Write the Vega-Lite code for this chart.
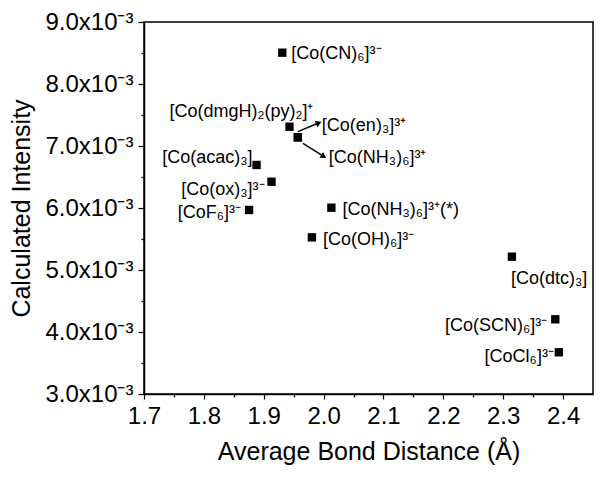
{
  "$schema": "https://vega.github.io/schema/vega-lite/v6.json",
  "width": 449,
  "height": 372,
  "autosize": "none",
  "padding": {"left": 144, "top": 22, "right": 8, "bottom": 85},
  "background": "white",
  "config": {
    "view": {"stroke": "black", "strokeWidth": 1.5},
    "font": "Liberation Sans",
    "axis": {
      "grid": false,
      "domainColor": "black",
      "domainWidth": 1.5,
      "tickColor": "black",
      "tickWidth": 1.2,
      "labelColor": "black",
      "titleColor": "black",
      "labelFont": "Liberation Sans",
      "titleFont": "Liberation Sans",
      "labelFontSize": 24,
      "titleFontSize": 25,
      "titleFontWeight": "normal"
    },
    "text": {"font": "Liberation Sans", "fontSize": 18, "color": "black", "baseline": "middle"}
  },
  "datasets": {
    "pts": [
      {"name": "CN", "label": "[Co(CN)₆]³⁻", "d": 1.931, "I": 0.008505},
      {"name": "dmgH", "label": "[Co(dmgH)₂(py)₂]⁺", "d": 1.943, "I": 0.007311},
      {"name": "en", "label": "[Co(en)₃]³⁺", "d": 1.957, "I": 0.00714},
      {"name": "NH3", "label": "[Co(NH₃)₆]³⁺", "d": 1.957, "I": 0.00714},
      {"name": "acac", "label": "[Co(acac)₃]", "d": 1.888, "I": 0.006694},
      {"name": "ox", "label": "[Co(ox)₃]³⁻", "d": 1.913, "I": 0.006424},
      {"name": "F", "label": "[CoF₆]³⁻", "d": 1.8755, "I": 0.005968},
      {"name": "NH3s", "label": "[Co(NH₃)₆]³⁺(*)", "d": 2.013, "I": 0.006005},
      {"name": "OH", "label": "[Co(OH)₆]³⁻", "d": 1.9805, "I": 0.005527},
      {"name": "dtc", "label": "[Co(dtc)₃]", "d": 2.3145, "I": 0.005215},
      {"name": "SCN", "label": "[Co(SCN)₆]³⁻", "d": 2.387, "I": 0.004205},
      {"name": "Cl", "label": "[CoCl₆]³⁻", "d": 2.393, "I": 0.003673}
    ],
    "arrows": [
      {"name": "en", "d": 1.957, "I": 0.007231, "d2": 1.9905, "I2": 0.007366},
      {"name": "NH3", "d": 1.9655, "I": 0.007044, "d2": 1.9988, "I2": 0.006839}
    ]
  },
  "resolve": {"axis": {"x": "independent", "y": "independent"}},
  "layer": [
    {
      "data": {"name": "pts"},
      "mark": {"type": "square", "size": 70, "color": "black", "opacity": 1, "filled": true},
      "encoding": {
        "x": {
          "field": "d", "type": "quantitative",
          "scale": {"domain": [1.7, 2.45], "nice": false, "zero": false},
          "axis": {
            "orient": "bottom",
            "title": "Average Bond Distance (Å)",
            "values": [1.7, 1.8, 1.9, 2.0, 2.1, 2.2, 2.3, 2.4],
            "format": ".1f",
            "tickSize": 5,
            "labelPadding": 5,
            "titlePadding": 11,
            "labelFlush": false,
            "labelOverlap": false
          }
        },
        "y": {
          "field": "I", "type": "quantitative",
          "scale": {"domain": [0.003, 0.009], "nice": false, "zero": false},
          "axis": {
            "orient": "left",
            "title": "Calculated Intensity",
            "values": [0.003, 0.004, 0.005, 0.006, 0.007, 0.008, 0.009],
            "labelExpr": "format(datum.value*1000, '.1f') + 'x10⁻³'",
            "tickSize": 6,
            "labelPadding": 5,
            "titlePadding": 10,
            "labelFlush": false,
            "labelOverlap": false
          }
        }
      }
    },
    {
      "data": {"name": "pts"},
      "mark": {"type": "point", "opacity": 0},
      "encoding": {
        "x": {
          "field": "d", "type": "quantitative",
          "axis": {
            "orient": "bottom", "title": null, "labels": false, "domain": false,
            "values": [1.75, 1.85, 1.95, 2.05, 2.15, 2.25, 2.35],
            "tickSize": 3
          }
        },
        "y": {
          "field": "I", "type": "quantitative",
          "axis": {
            "orient": "left", "title": null, "labels": false, "domain": false,
            "values": [0.0035, 0.0045, 0.0055, 0.0065, 0.0075, 0.0085],
            "tickSize": 3
          }
        }
      }
    },
    {
      "data": {"name": "arrows"},
      "mark": {"type": "rule", "color": "black", "strokeWidth": 1.5},
      "encoding": {
        "x": {"field": "d", "type": "quantitative", "axis": null},
        "y": {"field": "I", "type": "quantitative", "axis": null},
        "x2": {"field": "d2"},
        "y2": {"field": "I2"}
      }
    },
    {
      "data": {"name": "arrows"},
      "transform": [{"filter": "datum.name == 'en'"}],
      "mark": {"type": "point", "shape": "triangle", "filled": true, "color": "black", "opacity": 1, "size": 45, "angle": 67},
      "encoding": {
        "x": {"field": "d2", "type": "quantitative", "axis": null},
        "y": {"field": "I2", "type": "quantitative", "axis": null}
      }
    },
    {
      "data": {"name": "arrows"},
      "transform": [{"filter": "datum.name == 'NH3'"}],
      "mark": {"type": "point", "shape": "triangle", "filled": true, "color": "black", "opacity": 1, "size": 45, "angle": 122},
      "encoding": {
        "x": {"field": "d2", "type": "quantitative", "axis": null},
        "y": {"field": "I2", "type": "quantitative", "axis": null}
      }
    },
    {
      "data": {"name": "pts"},
      "transform": [{"filter": "datum.name == 'CN'"}],
      "mark": {"type": "text", "align": "left", "dx": 9, "dy": 1},
      "encoding": {"x": {"field": "d", "type": "quantitative", "axis": null}, "y": {"field": "I", "type": "quantitative", "axis": null}, "text": {"field": "label"}}
    },
    {
      "data": {"name": "pts"},
      "transform": [{"filter": "datum.name == 'dmgH'"}],
      "mark": {"type": "text", "align": "center", "dx": -48, "dy": -15},
      "encoding": {"x": {"field": "d", "type": "quantitative", "axis": null}, "y": {"field": "I", "type": "quantitative", "axis": null}, "text": {"field": "label"}}
    },
    {
      "data": {"name": "pts"},
      "transform": [{"filter": "datum.name == 'en'"}],
      "mark": {"type": "text", "align": "left", "dx": 24, "dy": -11},
      "encoding": {"x": {"field": "d", "type": "quantitative", "axis": null}, "y": {"field": "I", "type": "quantitative", "axis": null}, "text": {"field": "label"}}
    },
    {
      "data": {"name": "pts"},
      "transform": [{"filter": "datum.name == 'NH3'"}],
      "mark": {"type": "text", "align": "left", "dx": 31, "dy": 21},
      "encoding": {"x": {"field": "d", "type": "quantitative", "axis": null}, "y": {"field": "I", "type": "quantitative", "axis": null}, "text": {"field": "label"}}
    },
    {
      "data": {"name": "pts"},
      "transform": [{"filter": "datum.name == 'acac'"}],
      "mark": {"type": "text", "align": "right", "dx": -4, "dy": -7},
      "encoding": {"x": {"field": "d", "type": "quantitative", "axis": null}, "y": {"field": "I", "type": "quantitative", "axis": null}, "text": {"field": "label"}}
    },
    {
      "data": {"name": "pts"},
      "transform": [{"filter": "datum.name == 'ox'"}],
      "mark": {"type": "text", "align": "right", "dx": -7, "dy": 8},
      "encoding": {"x": {"field": "d", "type": "quantitative", "axis": null}, "y": {"field": "I", "type": "quantitative", "axis": null}, "text": {"field": "label"}}
    },
    {
      "data": {"name": "pts"},
      "transform": [{"filter": "datum.name == 'F'"}],
      "mark": {"type": "text", "align": "right", "dx": -8, "dy": 3},
      "encoding": {"x": {"field": "d", "type": "quantitative", "axis": null}, "y": {"field": "I", "type": "quantitative", "axis": null}, "text": {"field": "label"}}
    },
    {
      "data": {"name": "pts"},
      "transform": [{"filter": "datum.name == 'NH3s'"}],
      "mark": {"type": "text", "align": "left", "dx": 11, "dy": 2},
      "encoding": {"x": {"field": "d", "type": "quantitative", "axis": null}, "y": {"field": "I", "type": "quantitative", "axis": null}, "text": {"field": "label"}}
    },
    {
      "data": {"name": "pts"},
      "transform": [{"filter": "datum.name == 'OH'"}],
      "mark": {"type": "text", "align": "left", "dx": 11, "dy": 3},
      "encoding": {"x": {"field": "d", "type": "quantitative", "axis": null}, "y": {"field": "I", "type": "quantitative", "axis": null}, "text": {"field": "label"}}
    },
    {
      "data": {"name": "pts"},
      "transform": [{"filter": "datum.name == 'dtc'"}],
      "mark": {"type": "text", "align": "left", "dx": -1, "dy": 22},
      "encoding": {"x": {"field": "d", "type": "quantitative", "axis": null}, "y": {"field": "I", "type": "quantitative", "axis": null}, "text": {"field": "label"}}
    },
    {
      "data": {"name": "pts"},
      "transform": [{"filter": "datum.name == 'SCN'"}],
      "mark": {"type": "text", "align": "right", "dx": -8, "dy": 7},
      "encoding": {"x": {"field": "d", "type": "quantitative", "axis": null}, "y": {"field": "I", "type": "quantitative", "axis": null}, "text": {"field": "label"}}
    },
    {
      "data": {"name": "pts"},
      "transform": [{"filter": "datum.name == 'Cl'"}],
      "mark": {"type": "text", "align": "right", "dx": -5, "dy": 5},
      "encoding": {"x": {"field": "d", "type": "quantitative", "axis": null}, "y": {"field": "I", "type": "quantitative", "axis": null}, "text": {"field": "label"}}
    }
  ]
}
